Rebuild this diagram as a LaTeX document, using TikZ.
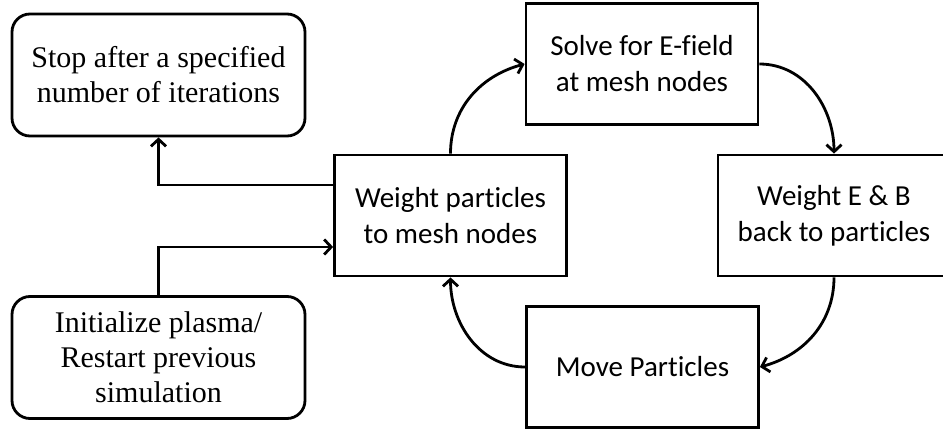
\documentclass[tikz,border=0pt]{standalone}
\usepackage{fontspec}
\setmainfont{Liberation Serif}
\newfontfamily\calibri[Ligatures=NoCommon]{Carlito}
\usetikzlibrary{arrows.meta}

\begin{document}
\begin{tikzpicture}[x=1pt,y=1pt,
    rbox/.style={shape=rectangle,rounded corners=18pt,draw=black,line width=2.8pt,minimum width=293pt,minimum height=122pt,align=center,font=\fontsize{30}{35}\selectfont},
    sbox/.style={shape=rectangle,draw=black,line width=2.8pt,minimum width=232pt,minimum height=121pt,align=center,font=\calibri\fontsize{29}{36}\selectfont},
    arr/.style={-{Straight Barb[length=7pt,width=15pt]},line width=2.8pt}]
    \useasboundingbox (0,0) rectangle (943,432);

    \node[rbox] (Stop) at (158.5,357) {Stop after a specified\\number of iterations};
    \node[rbox] (Init) at (158.5,74.5) {Initialize plasma/\\Restart previous\\simulation};
    \node[sbox] (Wpm) at (450.5,216.5) {Weight particles\\to mesh nodes};
    \node[sbox] (Solve) at (642,368) {Solve for E-field\\at mesh nodes};
    \node[sbox] (Web) at (834,216.5) {Weight E \& B\\back to particles};
    \node[sbox] (Move) at (642.5,65) {Move Particles};

    \draw [arr] ([yshift=30.5pt]Wpm.west) -| (Stop.south);
    \draw [arr] (Init.north) |- ([yshift=-31.5pt]Wpm.west);

    \path [arr](Wpm.north) edge[out=90,in=195] (Solve.west);
    \path [arr](Solve.east) edge[out=0,in=90] (Web.north);
    \path [arr](Web.south) edge[out=-90,in=15] (Move.east);
    \path [arr](Move.west) edge[out=180,in=-90] (Wpm.south);

\end{tikzpicture}
\end{document}
